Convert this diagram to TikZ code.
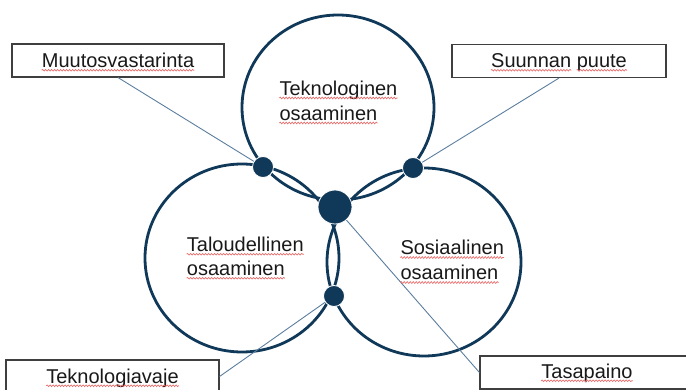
\documentclass[tikz,border=0pt]{standalone}
\usepackage{fontspec}
\setmainfont{Liberation Sans}
\usetikzlibrary{decorations.pathmorphing,calc,shapes.geometric}
\definecolor{navy}{HTML}{103858}
\definecolor{linkc}{HTML}{5B7E9E}
\definecolor{boxline}{HTML}{3F3F3F}
\definecolor{squig}{HTML}{E8706E}
\begin{document}
\begin{tikzpicture}[x=1pt,y=-1pt,
  ring/.style={ellipse,draw=navy,line width=2.8pt,inner sep=0pt},
  dot/.style={circle,fill=navy,draw=white,line width=0.8pt,inner sep=0pt},
  link/.style={draw=linkc,line width=0.9pt},
  lbox/.style={rectangle,draw=boxline,line width=1.1pt,fill=white,inner sep=0pt,minimum height=33pt},
  txt/.style={inner sep=0pt,anchor=base west,font=\fontsize{20}{24}\selectfont,text=black!90},
  txtc/.style={txt,anchor=base},
  wave/.style={draw=squig,line width=0.7pt,decorate,decoration={snake,amplitude=0.8pt,segment length=3pt}}]
\useasboundingbox (0,0) rectangle (686,390);

% circles
\node[ring,minimum width=192pt,minimum height=185pt] (ctek) at (338,107.5) {};
\node[ring,minimum width=194pt,minimum height=188pt] (ctal) at (242,258) {};
\node[ring,minimum width=194pt,minimum height=188pt] (csos) at (424,262) {};

% boxes
\node[lbox,minimum width=212pt] (bm) at (118,60.5) {};
\node[lbox,minimum width=214pt] (bs) at (559,61) {};
\node[lbox,minimum width=213pt] (btv) at (112.5,376.5) {};
\node[lbox,minimum width=214pt] (bta) at (587,372.5) {};

% dot positions
\coordinate (pTL) at (263,167);
\coordinate (pTR) at (413,168);
\coordinate (pC) at (335,207);
\coordinate (pB) at (334,296);

% connectors
\draw[link] (bm.south) -- (pTL);
\draw[link] (bs.south) -- (pTR);
\draw[link] (btv.east) -- (pB);
\draw[link] (pC) -- (bta.west);

% dots
\node[dot,minimum size=21pt] (dTL) at (pTL) {};
\node[dot,minimum size=21pt] (dTR) at (pTR) {};
\node[dot,minimum size=34pt] (dC) at (pC) {};
\node[dot,minimum size=21pt] (dB) at (pB) {};

% box texts
\node[txtc] (tm) at (118,67.7) {Muutosvastarinta};
\node[txtc] (ts) at (559,67.7) {Suunnan puute};
\node[txtc] (ttv) at (112.5,383.3) {Teknologiavaje};
\node[txtc] (tta) at (587,378.3) {Tasapaino};

% circle texts
\node[txt] (t1a) at (279.3,95.5) {Teknologinen};
\node[txt] (t1b) at (279.3,120.5) {osaaminen};
\node[txt] (t2a) at (186.7,251.7) {Taloudellinen};
\node[txt] (t2b) at (186.7,275.7) {osaaminen};
\node[txt] (t3a) at (400.3,255) {Sosiaalinen};
\node[txt] (t3b) at (400.3,280) {osaaminen};

% spell-check squiggles
\foreach \n in {tm,ttv,tta,t1a,t1b,t2a,t2b,t3a,t3b}{
  \draw[wave] ($(\n.base west)+(0,2.5)$) -- ($(\n.base east)+(0,2.5)$);
}
\draw[wave] ($(ts.base west)+(0,2.5)$) -- ($(ts.base west)!0.59!(ts.base east)+(0,2.5)$);
\draw[wave] ($(ts.base west)!0.63!(ts.base east)+(0,2.5)$) -- ($(ts.base east)+(0,2.5)$);
\end{tikzpicture}
\end{document}
